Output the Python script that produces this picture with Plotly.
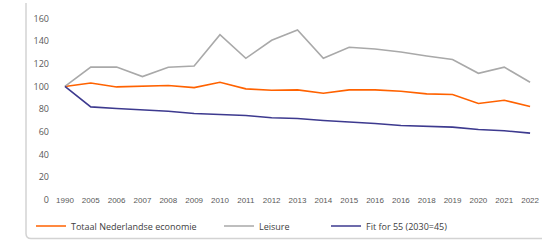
import plotly.graph_objects as go

years = ["1990", "2005", "2006", "2007", "2008", "2009", "2010", "2011", "2012",
         "2013", "2014", "2015", "2016", "2016", "2018", "2019", "2020", "2021", "2022"]

totaal = [100, 103.1, 99.6, 100.2, 100.8, 99.0, 103.7, 97.9, 96.7,
          97.0, 94.1, 97.0, 97.0, 95.8, 93.5, 92.9, 85.0, 87.9, 82.3]
leisure = [100, 117.0, 117.2, 108.7, 117.0, 118.0, 145.6, 124.8, 140.7,
           149.7, 124.8, 134.5, 133.0, 130.4, 126.9, 123.7, 111.6, 117.0, 103.7]
fit55 = [100, 82.0, 80.6, 79.4, 78.2, 76.2, 75.0, 74.4, 72.4,
         71.8, 70.0, 68.9, 67.4, 65.6, 64.8, 64.2, 62.1, 61.0, 58.9]

yticks = [0, 20, 40, 60, 80, 100, 120, 140, 160]

x = list(range(len(years)))

fig = go.Figure()
fig.add_trace(go.Scatter(x=x, y=totaal, mode="lines", name="Totaal Nederlandse economie",
                         line=dict(color="#FF6200", width=1.6), legend="legend", showlegend=True))
fig.add_trace(go.Scatter(x=x, y=leisure, mode="lines", name="Leisure",
                         line=dict(color="#A9A9A9", width=1.6), legend="legend2", showlegend=True))
fig.add_trace(go.Scatter(x=x, y=fit55, mode="lines", name="Fit for 55 (2030=45)",
                         line=dict(color="#3D3A8F", width=1.6), legend="legend3", showlegend=True))

W, H = 559, 242
ml, mr, mt, mb = 52, 16, 7, 42
ph = H - mt - mb

def py(pix):
    return (H - mb - pix) / ph

def px(pix):
    return (pix - ml) / (W - ml - mr)

leg_font = dict(family="Open Sans", size=9, color="#404040")
common = dict(orientation="h", yanchor="middle", xanchor="left", font=leg_font,
              bgcolor="rgba(0,0,0,0)", borderwidth=0, itemwidth=30)

fig.update_layout(
    width=W, height=H,
    showlegend=True,
    margin=dict(l=ml, r=mr, t=mt, b=mb, autoexpand=False),
    plot_bgcolor="white", paper_bgcolor="white",
    xaxis=dict(range=[-0.5, len(years) - 0.5], tickmode="array", tickvals=x, ticktext=years,
               showgrid=False, zeroline=False, showline=False, ticks="",
               tickfont=dict(family="Liberation Sans", size=8, color="#595959"),
               ticklabelstandoff=-6, fixedrange=True),
    yaxis=dict(range=[0, 170], tickvals=yticks, showgrid=False, zeroline=False,
               showline=False, ticks="",
               tickfont=dict(family="Open Sans", size=9, color="#595959"),
               ticklabelstandoff=2, fixedrange=True),
    legend=dict(x=px(31), y=py(226), **common),
    legend2=dict(x=px(219), y=py(226), **common),
    legend3=dict(x=px(326), y=py(226), **common),
    shapes=[dict(type="path", xref="paper", yref="paper",
                 path=f"M {px(26)} {py(3)} L {px(26)} {py(233.5)} Q {px(26)} {py(238.5)} {px(31)} {py(238.5)} L {px(542)} {py(238.5)}",
                 line=dict(color="#D3D3D3", width=1.5), layer="below")],
)

fig.write_html("out.html", config={"displayModeBar": False},
               post_script="document.body.style.margin='0';document.body.style.padding='0';")
